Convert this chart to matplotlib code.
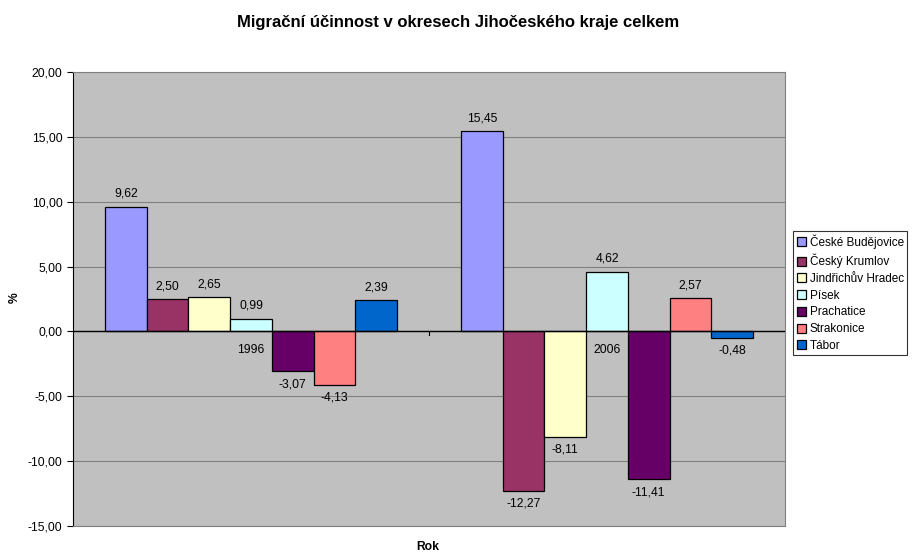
import matplotlib

matplotlib.use("Agg")
import matplotlib.pyplot as plt  # noqa: E402
import numpy as np  # noqa: E402

plt.rcParams["font.family"] = ["Liberation Sans", "DejaVu Sans"]

years = ["1996", "2006"]
districts = [
    "České Budějovice",
    "Český Krumlov",
    "Jindřichův Hradec",
    "Písek",
    "Prachatice",
    "Strakonice",
    "Tábor",
]
values = {
    "České Budějovice": [9.62, 15.45],
    "Český Krumlov": [2.50, -12.27],
    "Jindřichův Hradec": [2.65, -8.11],
    "Písek": [0.99, 4.62],
    "Prachatice": [-3.07, -11.41],
    "Strakonice": [-4.13, 2.57],
    "Tábor": [2.39, -0.48],
}
colors = ["#9999FF", "#993366", "#FFFFCC", "#CCFFFF", "#660066", "#FF8080", "#0066CC"]

fig = plt.figure(figsize=(9.14, 5.54), dpi=100)
ax = fig.add_axes([73 / 914, 1 - 526 / 554, 712 / 914, 454 / 554])
ax.set_facecolor("#C0C0C0")

n = len(districts)
bar_w = 0.82 / n
x = np.arange(len(years))
for i, (name, col) in enumerate(zip(districts, colors)):
    pos = x - 0.41 + bar_w * (i + 0.5)
    vals = values[name]
    ax.bar(pos, vals, width=bar_w, color=col, edgecolor="black", linewidth=0.9, label=name, zorder=3)
    for xp, v in zip(pos, vals):
        label = f"{v:.2f}".replace(".", ",")
        if v >= 0:
            ax.annotate(label, (xp, v), xytext=(0, 5), textcoords="offset points",
                        ha="center", va="bottom", fontsize=8.7)
        else:
            ax.annotate(label, (xp, v), xytext=(0, -5), textcoords="offset points",
                        ha="center", va="top", fontsize=8.7)

ax.set_xlim(-0.5, 1.5)
ax.set_ylim(-15, 20)
yt = np.arange(-15, 21, 5)
ax.set_yticks(yt)
ax.set_yticklabels([f"{t:.2f}".replace(".", ",") for t in yt], fontsize=8.7)
ax.yaxis.grid(True, color="#808080", linewidth=0.8, zorder=0)
ax.tick_params(axis="y", direction="out", length=4, width=0.8)

# category axis sits on zero
ax.axhline(0, color="black", linewidth=1, zorder=4)
ax.set_xticks([])
ax.plot([0.5, 0.5], [0, -0.3], color="black", linewidth=0.8, zorder=4)
for xi, yr in zip(x, years):
    ax.text(xi, -1.45, yr, ha="center", va="center", fontsize=8.7, zorder=2)

for s in ax.spines.values():
    s.set_color("#808080")
    s.set_linewidth(0.8)
ax.spines["left"].set_color("black")

fig.text(458 / 914, 1 - 22 / 554, "Migrační účinnost v okresech Jihočeského kraje celkem",
         ha="center", va="center", fontsize=12, fontweight="bold")
fig.text(15 / 914, 1 - 298 / 554, "%", ha="center", va="center", rotation=90,
         fontsize=8.7, fontweight="bold")
fig.text(428 / 914, 1 - 547 / 554, "Rok", ha="center", va="center",
         fontsize=8.7, fontweight="bold")

leg = fig.legend(loc="upper left", bbox_to_anchor=(793 / 914, 1 - 231 / 554),
                 fontsize=8.5, frameon=True, fancybox=False, borderpad=0.3,
                 handlelength=0.8, handleheight=0.8, handletextpad=0.3,
                 labelspacing=0.4, borderaxespad=0)
leg.get_frame().set_edgecolor("black")
leg.get_frame().set_linewidth(0.8)

fig.savefig("out.png", dpi=100)
